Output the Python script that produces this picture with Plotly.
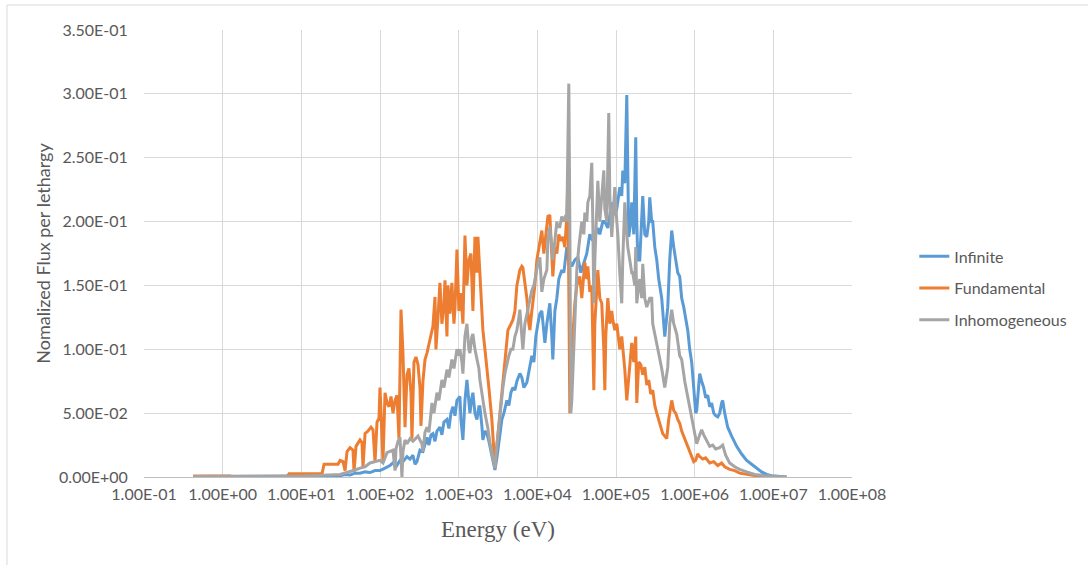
import plotly.graph_objects as go

# Neutron flux per lethargy spectra; energies stored as log10(E / eV)
infinite_log_e = [
    -0.375, 0.984, 1.492, 1.556, 1.619, 1.683, 1.746, 1.810, 1.873, 1.937,
    2.000, 2.064, 2.127, 2.165, 2.203, 2.254, 2.292, 2.343, 2.381, 2.419,
    2.445, 2.470, 2.508, 2.546, 2.572, 2.597, 2.622, 2.648, 2.673, 2.699,
    2.724, 2.762, 2.787, 2.813, 2.851, 2.876, 2.902, 2.927, 2.953, 2.978,
    3.016, 3.029, 3.054, 3.080, 3.105, 3.130, 3.143, 3.168, 3.181, 3.207,
    3.232, 3.257, 3.270, 3.295, 3.308, 3.334, 3.359, 3.384, 3.422, 3.448,
    3.461, 3.486, 3.511, 3.549, 3.575, 3.613, 3.638, 3.664, 3.689, 3.715,
    3.740, 3.778, 3.803, 3.829, 3.867, 3.892, 3.930, 3.956, 3.981, 4.007,
    4.032, 4.057, 4.083, 4.096, 4.121, 4.159, 4.184, 4.197, 4.223, 4.248,
    4.273, 4.311, 4.337, 4.375, 4.400, 4.438, 4.477, 4.515, 4.553, 4.591,
    4.629, 4.667, 4.705, 4.731, 4.769, 4.794, 4.832, 4.858, 4.896, 4.934,
    4.959, 4.985, 5.010, 5.048, 5.073, 5.086, 5.112, 5.137, 5.150, 5.162,
    5.188, 5.200, 5.226, 5.251, 5.264, 5.277, 5.302, 5.327, 5.340, 5.366,
    5.391, 5.416, 5.429, 5.454, 5.467, 5.493, 5.518, 5.543, 5.556, 5.581,
    5.620, 5.645, 5.658, 5.683, 5.708, 5.734, 5.747, 5.772, 5.785, 5.810,
    5.835, 5.861, 5.886, 5.912, 5.937, 5.962, 5.988, 6.013, 6.026, 6.051,
    6.064, 6.089, 6.115, 6.140, 6.166, 6.191, 6.216, 6.242, 6.267, 6.293,
    6.318, 6.343, 6.356, 6.382, 6.420, 6.470, 6.534, 6.597, 6.661, 6.724,
    6.788, 6.851, 6.915, 6.978, 7.169,
]
infinite_flux = [
    0.0003, 0.0005, 0.001, 0.002, 0.0015, 0.003, 0.003, 0.004, 0.0035, 0.005,
    0.005, 0.007, 0.009, 0.011, 0.008, 0.013, 0.012, 0.016, 0.014, 0.017,
    0.010, 0.012, 0.021, 0.020, 0.026, 0.031, 0.025, 0.033, 0.034, 0.028,
    0.036, 0.039, 0.033, 0.043, 0.045, 0.038, 0.050, 0.055, 0.048, 0.060,
    0.063, 0.045, 0.029, 0.060, 0.076, 0.060, 0.050, 0.062, 0.066, 0.050,
    0.045, 0.055, 0.055, 0.040, 0.029, 0.036, 0.034, 0.028, 0.016, 0.010,
    0.0055, 0.015, 0.027, 0.045, 0.050, 0.060, 0.056, 0.066, 0.070, 0.068,
    0.075, 0.081, 0.078, 0.070, 0.074, 0.082, 0.095, 0.090, 0.110, 0.120,
    0.128, 0.130, 0.115, 0.105, 0.120, 0.136, 0.110, 0.092, 0.130, 0.140,
    0.155, 0.162, 0.160, 0.180, 0.170, 0.165, 0.170, 0.172, 0.160, 0.168,
    0.175, 0.190, 0.185, 0.188, 0.195, 0.190, 0.200, 0.200, 0.195, 0.210,
    0.215, 0.205, 0.210, 0.227, 0.220, 0.240, 0.230, 0.299, 0.220, 0.188,
    0.200, 0.215, 0.190, 0.266, 0.200, 0.170, 0.170, 0.200, 0.220, 0.190,
    0.188, 0.200, 0.219, 0.200, 0.200, 0.180, 0.170, 0.155, 0.149, 0.140,
    0.110, 0.125, 0.133, 0.170, 0.193, 0.180, 0.175, 0.168, 0.160, 0.157,
    0.140, 0.133, 0.125, 0.115, 0.100, 0.090, 0.070, 0.050, 0.052, 0.070,
    0.081, 0.075, 0.070, 0.062, 0.064, 0.055, 0.058, 0.050, 0.048, 0.047,
    0.050, 0.058, 0.060, 0.050, 0.039, 0.032, 0.024, 0.018, 0.013, 0.010,
    0.007, 0.004, 0.002, 0.001, 0.0,
]

fundamental_log_e = [
    -0.375, 0.095, 0.120, 0.819, 0.844, 1.263, 1.289, 1.467, 1.492, 1.530,
    1.556, 1.581, 1.619, 1.657, 1.670, 1.695, 1.746, 1.771, 1.784, 1.810,
    1.848, 1.886, 1.911, 1.937, 1.962, 1.987, 2.000, 2.013, 2.038, 2.064,
    2.089, 2.114, 2.140, 2.165, 2.191, 2.216, 2.241, 2.267, 2.292, 2.318,
    2.343, 2.368, 2.394, 2.406, 2.432, 2.457, 2.483, 2.508, 2.521, 2.546,
    2.572, 2.597, 2.622, 2.648, 2.673, 2.699, 2.711, 2.737, 2.762, 2.787,
    2.813, 2.826, 2.851, 2.864, 2.889, 2.914, 2.940, 2.953, 2.978, 3.003,
    3.029, 3.054, 3.080, 3.105, 3.130, 3.156, 3.181, 3.207, 3.232, 3.245,
    3.270, 3.295, 3.308, 3.334, 3.359, 3.384, 3.422, 3.448, 3.461, 3.486,
    3.524, 3.562, 3.588, 3.626, 3.651, 3.689, 3.715, 3.740, 3.778, 3.803,
    3.816, 3.842, 3.867, 3.892, 3.905, 3.930, 3.969, 3.994, 4.032, 4.057,
    4.083, 4.108, 4.134, 4.159, 4.184, 4.197, 4.223, 4.248, 4.273, 4.299,
    4.324, 4.350, 4.375, 4.388, 4.400, 4.413, 4.426, 4.451, 4.477, 4.502,
    4.540, 4.565, 4.604, 4.629, 4.642, 4.667, 4.692, 4.705, 4.718, 4.731,
    4.756, 4.769, 4.794, 4.819, 4.845, 4.858, 4.870, 4.896, 4.921, 4.946,
    4.959, 4.985, 5.010, 5.048, 5.073, 5.099, 5.112, 5.137, 5.150, 5.175,
    5.200, 5.226, 5.251, 5.264, 5.289, 5.315, 5.340, 5.366, 5.391, 5.416,
    5.442, 5.467, 5.493, 5.518, 5.543, 5.569, 5.594, 5.620, 5.645, 5.670,
    5.696, 5.708, 5.734, 5.759, 5.785, 5.810, 5.835, 5.874, 5.912, 5.937,
    5.962, 5.988, 6.013, 6.039, 6.064, 6.102, 6.140, 6.191, 6.242, 6.293,
    6.343, 6.382, 6.445, 6.509, 6.572, 6.699, 6.826, 6.953,
]
fundamental_flux = [
    0.0008, 0.0008, 0.0, 0.0, 0.0025, 0.0025, 0.010, 0.010, 0.013, 0.012,
    0.005, 0.020, 0.023, 0.021, 0.004, 0.024, 0.029, 0.027, 0.008, 0.034,
    0.036, 0.039, 0.037, 0.012, 0.043, 0.046, 0.070, 0.045, 0.012, 0.066,
    0.058, 0.055, 0.063, 0.050, 0.060, 0.064, 0.030, 0.131, 0.097, 0.039,
    0.080, 0.085, 0.066, 0.030, 0.090, 0.094, 0.088, 0.070, 0.040, 0.075,
    0.092, 0.097, 0.104, 0.110, 0.118, 0.141, 0.100, 0.125, 0.152, 0.120,
    0.135, 0.154, 0.110, 0.150, 0.128, 0.152, 0.120, 0.132, 0.178, 0.130,
    0.144, 0.120, 0.189, 0.150, 0.170, 0.175, 0.130, 0.188, 0.160, 0.188,
    0.160, 0.130, 0.115, 0.100, 0.086, 0.070, 0.045, 0.020, 0.008, 0.025,
    0.050, 0.078, 0.090, 0.115, 0.118, 0.123, 0.130, 0.150, 0.162, 0.165,
    0.164, 0.150, 0.140, 0.120, 0.115, 0.130, 0.150, 0.170, 0.183, 0.193,
    0.175, 0.190, 0.204, 0.205, 0.170, 0.157, 0.180, 0.175, 0.190, 0.185,
    0.188, 0.180, 0.205, 0.232, 0.150, 0.050, 0.060, 0.110, 0.136, 0.150,
    0.157, 0.140, 0.168, 0.155, 0.165, 0.145, 0.150, 0.110, 0.068, 0.120,
    0.155, 0.162, 0.140, 0.136, 0.100, 0.068, 0.110, 0.140, 0.120, 0.130,
    0.123, 0.115, 0.120, 0.100, 0.110, 0.095, 0.084, 0.060, 0.070, 0.090,
    0.105, 0.090, 0.110, 0.058, 0.090, 0.088, 0.080, 0.086, 0.072, 0.076,
    0.065, 0.068, 0.056, 0.050, 0.045, 0.038, 0.034, 0.032, 0.030, 0.045,
    0.057, 0.060, 0.052, 0.050, 0.045, 0.042, 0.036, 0.030, 0.024, 0.020,
    0.015, 0.012, 0.013, 0.018, 0.016, 0.014, 0.015, 0.011, 0.012, 0.009,
    0.011, 0.008, 0.006, 0.005, 0.003, 0.0015, 0.0005, 0.0,
]

inhomogeneous_log_e = [
    -0.375, 0.984, 1.492, 1.556, 1.619, 1.683, 1.746, 1.810, 1.873, 1.937,
    2.000, 2.038, 2.064, 2.089, 2.127, 2.165, 2.191, 2.203, 2.229, 2.254,
    2.267, 2.279, 2.292, 2.318, 2.343, 2.381, 2.419, 2.445, 2.483, 2.508,
    2.533, 2.546, 2.572, 2.597, 2.622, 2.648, 2.660, 2.686, 2.724, 2.749,
    2.787, 2.813, 2.851, 2.876, 2.914, 2.940, 2.978, 3.003, 3.016, 3.041,
    3.054, 3.080, 3.105, 3.130, 3.143, 3.168, 3.181, 3.207, 3.232, 3.257,
    3.270, 3.308, 3.334, 3.372, 3.397, 3.435, 3.461, 3.486, 3.524, 3.562,
    3.588, 3.613, 3.638, 3.664, 3.689, 3.715, 3.740, 3.765, 3.778, 3.803,
    3.816, 3.842, 3.867, 3.892, 3.930, 3.956, 3.981, 4.007, 4.032, 4.057,
    4.083, 4.121, 4.134, 4.159, 4.184, 4.197, 4.223, 4.248, 4.261, 4.286,
    4.311, 4.337, 4.362, 4.375, 4.388, 4.400, 4.413, 4.426, 4.438, 4.451,
    4.477, 4.502, 4.527, 4.540, 4.565, 4.591, 4.604, 4.629, 4.642, 4.667,
    4.692, 4.705, 4.718, 4.731, 4.756, 4.769, 4.794, 4.819, 4.845, 4.858,
    4.883, 4.908, 4.921, 4.946, 4.972, 4.985, 5.010, 5.023, 5.048, 5.073,
    5.086, 5.112, 5.137, 5.150, 5.175, 5.200, 5.213, 5.239, 5.251, 5.264,
    5.289, 5.302, 5.327, 5.340, 5.366, 5.391, 5.429, 5.454, 5.467, 5.493,
    5.518, 5.543, 5.556, 5.581, 5.620, 5.645, 5.658, 5.683, 5.708, 5.734,
    5.772, 5.810, 5.835, 5.874, 5.912, 5.937, 5.975, 6.001, 6.026, 6.064,
    6.089, 6.115, 6.153, 6.191, 6.229, 6.267, 6.318, 6.356, 6.394, 6.445,
    6.509, 6.572, 6.661, 6.763, 6.890, 7.169,
]
inhomogeneous_flux = [
    0.0004, 0.0006, 0.002, 0.003, 0.004, 0.0055, 0.007, 0.008, 0.011, 0.012,
    0.013, 0.011, 0.016, 0.019, 0.020, 0.021, 0.005, 0.022, 0.028, 0.031,
    0.015, 0.000, 0.020, 0.029, 0.026, 0.030, 0.028, 0.030, 0.032, 0.029,
    0.026, 0.020, 0.035, 0.039, 0.035, 0.050, 0.058, 0.050, 0.066, 0.060,
    0.076, 0.070, 0.084, 0.078, 0.092, 0.085, 0.100, 0.095, 0.100, 0.090,
    0.081, 0.110, 0.120, 0.100, 0.097, 0.110, 0.112, 0.100, 0.092, 0.085,
    0.076, 0.060, 0.050, 0.038, 0.027, 0.015, 0.007, 0.025, 0.050, 0.070,
    0.081, 0.089, 0.095, 0.100, 0.100, 0.110, 0.115, 0.125, 0.131, 0.110,
    0.100, 0.120, 0.128, 0.135, 0.146, 0.150, 0.160, 0.167, 0.172, 0.145,
    0.155, 0.162, 0.185, 0.196, 0.180, 0.170, 0.185, 0.200, 0.196, 0.196,
    0.204, 0.200, 0.205, 0.200, 0.260, 0.308, 0.200, 0.050, 0.060, 0.084,
    0.130, 0.162, 0.180, 0.188, 0.200, 0.190, 0.207, 0.200, 0.215, 0.220,
    0.246, 0.200, 0.136, 0.170, 0.210, 0.232, 0.200, 0.220, 0.240, 0.210,
    0.200, 0.285, 0.220, 0.188, 0.210, 0.227, 0.200, 0.190, 0.160, 0.136,
    0.170, 0.215, 0.190, 0.180, 0.170, 0.160, 0.160, 0.150, 0.180, 0.136,
    0.150, 0.155, 0.140, 0.167, 0.140, 0.133, 0.140, 0.140, 0.120, 0.112,
    0.105, 0.095, 0.092, 0.085, 0.070, 0.080, 0.086, 0.120, 0.131, 0.120,
    0.112, 0.095, 0.092, 0.075, 0.063, 0.055, 0.042, 0.032, 0.026, 0.033,
    0.037, 0.033, 0.028, 0.024, 0.025, 0.022, 0.023, 0.025, 0.017, 0.011,
    0.008, 0.006, 0.004, 0.002, 0.001, 0.0,
]

x_tick_exponents = [-1, 0, 1, 2, 3, 4, 5, 6, 7, 8]
x_tick_labels = ["1.00E-01", "1.00E+00", "1.00E+01", "1.00E+02", "1.00E+03",
                 "1.00E+04", "1.00E+05", "1.00E+06", "1.00E+07", "1.00E+08"]
y_tick_values = [0.0, 0.05, 0.10, 0.15, 0.20, 0.25, 0.30, 0.35]
y_tick_labels = ["0.00E+00", "5.00E-02", "1.00E-01", "1.50E-01",
                 "2.00E-01", "2.50E-01", "3.00E-01", "3.50E-01"]

series = [
    ("Infinite", infinite_log_e, infinite_flux, "#5B9BD5"),
    ("Fundamental", fundamental_log_e, fundamental_flux, "#ED7D31"),
    ("Inhomogeneous", inhomogeneous_log_e, inhomogeneous_flux, "#A5A5A5"),
]

TEXT = "#595959"
GRID = "#D9D9D9"
SANS = "Lato, 'Open Sans', sans-serif"

fig = go.Figure()
for name, log_e, flux, color in series:
    fig.add_trace(go.Scatter(
        x=[10 ** v for v in log_e],
        y=flux,
        mode="lines",
        name=name,
        legendgroup=name,
        line=dict(color=color, width=3),
    ))

fig.update_layout(
    width=1088,
    height=565,
    margin=dict(l=144, r=236, t=30, b=88),
    paper_bgcolor="white",
    plot_bgcolor="white",
    font=dict(family=SANS, size=16, color=TEXT),
    showlegend=True,
    legend=dict(
        x=1.088, xanchor="left",
        y=0.422, yanchor="middle",
        font=dict(family=SANS, size=16, color=TEXT),
        tracegroupgap=8,
        bgcolor="rgba(0,0,0,0)",
    ),
    xaxis=dict(
        type="log",
        range=[-1, 8],
        tickvals=[10 ** e for e in x_tick_exponents],
        ticktext=x_tick_labels,
        showgrid=True,
        gridcolor=GRID,
        gridwidth=1,
        zeroline=False,
        showline=True,
        linecolor="#BFBFBF",
        linewidth=1,
        ticks="outside",
        ticklen=3,
        tickcolor="rgba(0,0,0,0)",
        tickfont=dict(family=SANS, size=16, color=TEXT),
        title=dict(text="Energy (eV)",
                   font=dict(family="'Liberation Serif', 'Times New Roman', serif",
                             size=23, color=TEXT),
                   standoff=18),
    ),
    yaxis=dict(
        range=[0, 0.35],
        tickvals=y_tick_values,
        ticktext=y_tick_labels,
        showgrid=True,
        gridcolor=GRID,
        gridwidth=1,
        zeroline=False,
        showline=False,
        ticks="outside",
        ticklen=12,
        tickcolor="rgba(0,0,0,0)",
        tickfont=dict(family=SANS, size=16, color=TEXT),
        title=dict(text="Nomalized Flux per lethargy",
                   font=dict(family=SANS, size=18, color=TEXT),
                   standoff=3),
    ),
    shapes=[
        dict(type="line", xref="paper", yref="paper",
             x0=-0.1935, x1=1.4, y0=1.056, y1=1.056,
             line=dict(color=GRID, width=1)),
        dict(type="line", xref="paper", yref="paper",
             x0=-0.1935, x1=-0.1935, y0=-0.3, y1=1.056,
             line=dict(color=GRID, width=1)),
    ],
)

fig.write_html("out.html")
